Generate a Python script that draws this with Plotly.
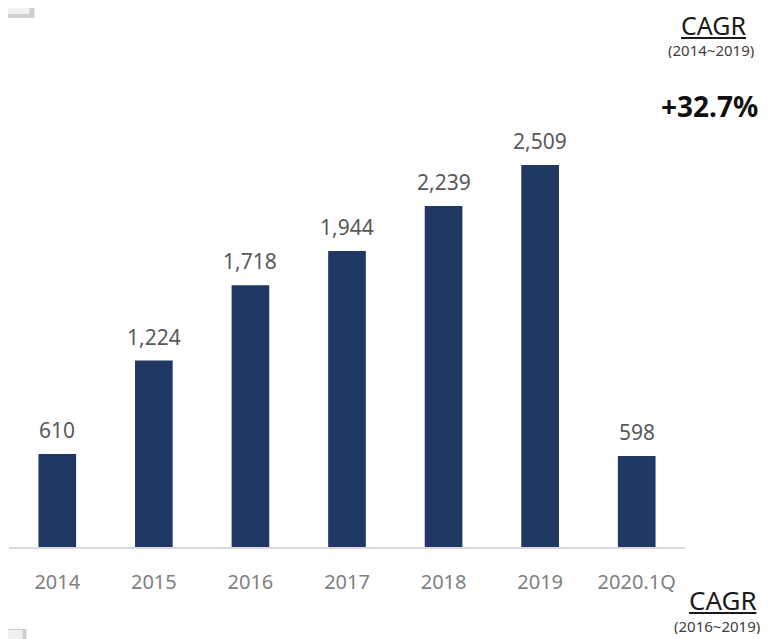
import plotly.graph_objects as go

categories = ["2014", "2015", "2016", "2017", "2018", "2019", "2020.1Q"]
values = [610, 1224, 1718, 1944, 2239, 2509, 598]
value_labels = ["610", "1,224", "1,718", "1,944", "2,239", "2,509", "598"]

# page has an 8px body margin; work in page pixels and convert
OFF = 8
W, H = 770 - OFF, 639 - OFF
PL, PR, PT, PB = 8.5, 685.5, 100, 547  # plot area in page pixels
L, R, T, B = PL - OFF, W - (PR - OFF), PT - OFF, H - (PB - OFF)
pw, ph = PR - PL, PB - PT

def px(x):
    return (x - PL) / pw

def py(y):
    return (PB - y) / ph

FONT = "Noto Sans"

fig = go.Figure(go.Bar(
    x=categories, y=values,
    marker=dict(color="#203864", line=dict(width=0)),
    hoverinfo="skip",
))

ann = []
for i, (v, t) in enumerate(zip(values, value_labels)):
    ann.append(dict(x=i, y=v, xref="x", yref="y", text=t, showarrow=False,
                    yanchor="bottom", yshift=8,
                    font=dict(family=FONT, size=21, color="#595959")))

ann += [
    dict(x=px(714), y=py(25), xref="paper", yref="paper", text="<u>CAGR</u>",
         showarrow=False, xanchor="center", yanchor="middle", height=28,
         font=dict(family=FONT, size=25, color="#1a1a1a")),
    dict(x=px(712), y=py(50), xref="paper", yref="paper", text="(2014~2019)",
         showarrow=False, xanchor="center", yanchor="middle", height=16,
         font=dict(family=FONT, size=15, color="#404040")),
    dict(x=px(710), y=py(106), xref="paper", yref="paper", text="<b>+32.7%</b>",
         showarrow=False, xanchor="center", yanchor="middle",
         font=dict(family=FONT, size=28, color="#111111")),
    dict(x=px(724), y=py(600), xref="paper", yref="paper", text="<u>CAGR</u>",
         showarrow=False, xanchor="center", yanchor="middle", height=28,
         font=dict(family=FONT, size=26, color="#1a1a1a")),
    dict(x=px(718), y=py(626), xref="paper", yref="paper", text="(2016~2019)",
         showarrow=False, xanchor="center", yanchor="middle", height=16,
         font=dict(family=FONT, size=15, color="#404040")),
]

shapes = [
    dict(type="rect", xref="paper", yref="paper", x0=px(0), x1=px(34), y0=py(18), y1=py(0),
         fillcolor="#d0d0d0", line=dict(width=0), layer="below"),
    dict(type="rect", xref="paper", yref="paper", x0=px(0), x1=px(29), y0=py(14), y1=py(0),
         fillcolor="#f0f0f0", line=dict(width=0), layer="below"),
    dict(type="rect", xref="paper", yref="paper", x0=px(0), x1=px(26), y0=py(639), y1=py(629),
         fillcolor="#d0d0d0", line=dict(width=0), layer="below"),
    dict(type="rect", xref="paper", yref="paper", x0=px(0), x1=px(22), y0=py(639), y1=py(630),
         fillcolor="#f0f0f0", line=dict(width=0), layer="below"),
]

fig.update_layout(
    width=W, height=H,
    margin=dict(l=L, r=R, t=T, b=B, pad=0, autoexpand=False),
    paper_bgcolor="white", plot_bgcolor="white",
    bargap=0.61,
    showlegend=False,
    annotations=ann,
    shapes=shapes,
    xaxis=dict(type="category", range=[-0.5, len(categories) - 0.5],
               showline=True, linecolor="#d9d9d9", linewidth=2, ticks="",
               showgrid=False, zeroline=False, automargin=False,
               tickfont=dict(family=FONT, size=20, color="#7f7f7f"),
               ticklabelstandoff=16),
    yaxis=dict(range=[0, 2935], visible=False, showgrid=False, zeroline=False,
               automargin=False),
)

fig.write_html("out.html")
